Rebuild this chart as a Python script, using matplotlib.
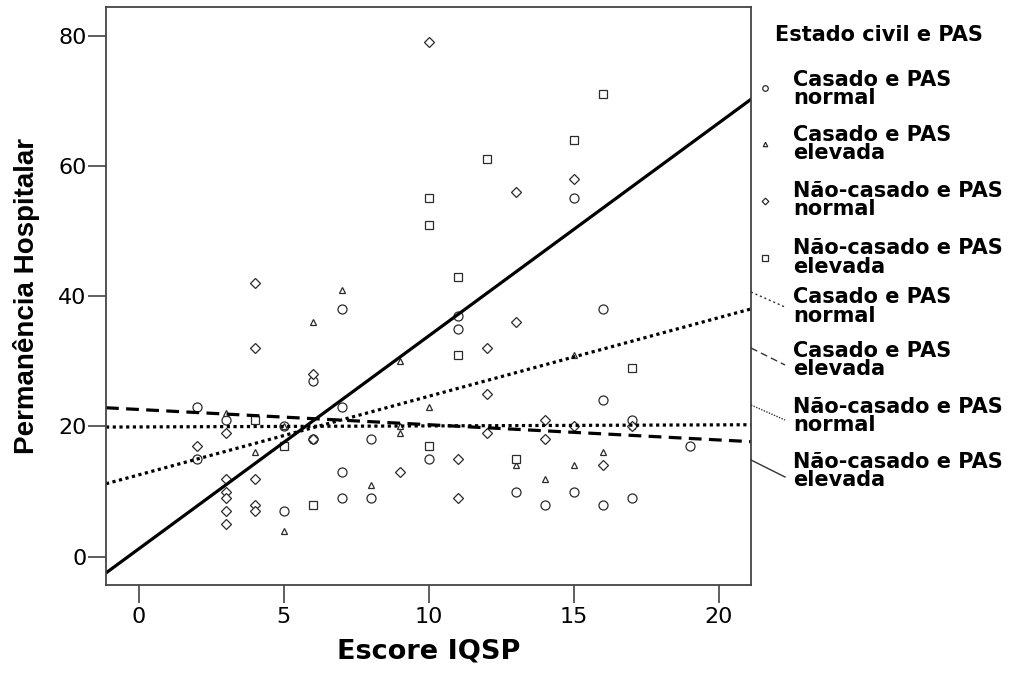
from matplotlib import pyplot as plt
from matplotlib.lines import Line2D

plt.rcParams['font.family'] = ['DejaVu Sans']

# points (Escore IQSP, Permanencia Hospitalar)
casado_normal_x = [2, 2, 3, 5, 5, 6, 6, 7, 7, 7, 7, 8, 8, 10, 11, 11, 13, 14, 15, 15, 16, 16, 16, 17, 17, 19]
casado_normal_y = [23, 15, 21, 20, 7, 27, 18, 38, 23, 13, 9, 18, 9, 15, 37, 35, 10, 8, 55, 10, 38, 24, 8, 21, 9, 17]

casado_elevada_x = [3, 4, 4, 5, 5, 6, 7, 8, 9, 9, 9, 10, 13, 14, 15, 15, 16, 17]
casado_elevada_y = [22, 21, 16, 20, 4, 36, 41, 11, 30, 20, 19, 23, 14, 12, 31, 14, 16, 20]

nao_normal_x = [2, 3, 3, 3, 3, 3, 3, 4, 4, 4, 4, 4, 6, 6, 9, 10, 11, 11, 12, 12, 12, 13, 13, 14, 14, 15, 15, 16, 17]
nao_normal_y = [17, 19, 12, 10, 9, 7, 5, 42, 32, 12, 8, 7, 28, 18, 13, 79, 15, 9, 32, 25, 19, 56, 36, 21, 18, 58, 20, 14, 20]

nao_elevada_x = [4, 5, 6, 10, 10, 10, 11, 11, 12, 13, 15, 16, 17]
nao_elevada_y = [21, 17, 8, 55, 51, 17, 43, 31, 61, 15, 64, 71, 29]

# fit lines as drawn in the chart (intercept, slope)
fit_intercept = [19.92, 22.6, 12.56, 1.2]
fit_slope = [0.016, -0.234, 1.207, 3.27]

group_labels = ['Casado e PAS\nnormal', 'Casado e PAS\nelevada',
                'Não-casado e PAS\nnormal', 'Não-casado e PAS\nelevada']

W, H = 1013, 679
fig = plt.figure(figsize=(W / 100, H / 100), dpi=100)
ax = fig.add_axes([106 / W, 1 - 585 / H, (751 - 106) / W, (585 - 7) / H])

edge = '#2b2b2b'
mk = dict(linestyle='none', markerfacecolor='white', markeredgecolor=edge, markeredgewidth=0.9)
ax.plot(casado_normal_x, casado_normal_y, marker='o', markersize=6.5, **mk)
ax.plot(casado_elevada_x, casado_elevada_y, marker='^', markersize=4.6, **mk)
ax.plot(nao_normal_x, nao_normal_y, marker='D', markersize=5.0, **mk)
ax.plot(nao_elevada_x, nao_elevada_y, marker='s', markersize=5.5, **mk)

# fit lines
styles = [dict(linestyle=(0, (1, 1.1)), dash_capstyle='butt'),
          dict(linestyle=(0, (4, 2.3)), dash_capstyle='butt'),
          dict(linestyle=(0, (1, 1.1)), dash_capstyle='butt'),
          dict(linestyle='-')]
for b, m, st in zip(fit_intercept, fit_slope, styles):
    ax.axline((0, b), slope=m, color='black', linewidth=2.3, **st)

ax.set_xlim(-1.13, 21.11)
ax.set_ylim(-4.35, 84.4)
ax.set_xticks([0, 5, 10, 15, 20])
ax.set_yticks([0, 20, 40, 60, 80])
for s in ax.spines.values():
    s.set_color('#444444')
    s.set_linewidth(1.3)
ax.tick_params(length=13, width=1.1, color='#333333', labelsize=16)
ax.tick_params(axis='x', pad=3)
ax.tick_params(axis='y', pad=1)
ax.set_xlabel('Escore IQSP', fontsize=19.5, fontweight='bold', labelpad=8)
ax.set_ylabel('Permanência Hospitalar', fontsize=20, fontweight='bold', labelpad=13,
              family='Liberation Sans')

# legend on the right, built by hand like the SPSS one
def fx(px):
    return px / W

def fy(py):
    return 1 - py / H

fig.text(fx(775), fy(35), 'Estado civil e PAS', fontsize=15, fontweight='bold', va='center', ha='left')

marker_specs = [('o', 4.0), ('^', 3.2), ('D', 3.4), ('s', 3.8)]
marker_y = [88, 144, 201, 258]
text_mid = [89, 144, 200, 257.5, 306.5, 360, 416, 471]
for (m, ms), py in zip(marker_specs, marker_y):
    fig.add_artist(Line2D([fx(765)], [fy(py)], transform=fig.transFigure, marker=m,
                          markersize=ms, **mk))

leg_styles = [(0, (1.5, 2)), (0, (5, 3)), (0, (1, 1)), '-']
leg_segments = [(292, 307), (348, 365), (405, 420), (460, 477)]
for st, (y0, y1) in zip(leg_styles, leg_segments):
    fig.add_artist(Line2D([fx(751), fx(785)], [fy(y0), fy(y1)], transform=fig.transFigure,
                          color='#333333', linewidth=1.0, linestyle=st))

for lab, py in zip(group_labels * 2, text_mid):
    fig.text(fx(793), fy(py), lab, fontsize=15, fontweight='bold', va='center', ha='left',
             linespacing=0.88)

plt.savefig('out.png', dpi=100)
